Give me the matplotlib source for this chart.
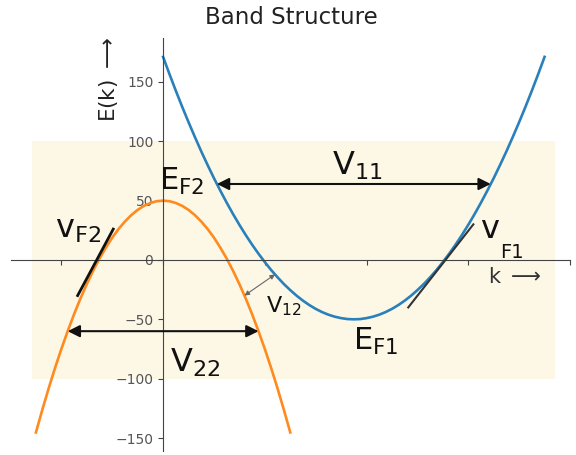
import matplotlib
matplotlib.use("Agg")
import matplotlib.pyplot as plt
from matplotlib.patches import Rectangle

plt.rcParams['mathtext.default'] = 'regular'
plt.rcParams['font.family'] = ['DejaVu Sans']

# ---- data ----
k_band2 = [-1.25, -1.1875, -1.125, -1.0625, -1.0, -0.9375, -0.875, -0.8125, -0.75, -0.6875,
           -0.625, -0.5625, -0.5, -0.4375, -0.375, -0.3125, -0.25, -0.1875, -0.125, -0.0625,
           0.0,
           0.0625, 0.125, 0.1875, 0.25, 0.3125, 0.375, 0.4375, 0.5, 0.5625, 0.625,
           0.6875, 0.75, 0.8125, 0.875, 0.9375, 1.0, 1.0625, 1.125, 1.1875, 1.25]
E_band2 = [-145.3, -126.3, -108.2, -91.1, -75.0, -59.9, -45.7, -32.5, -20.3, -9.1,
           1.2, 10.4, 18.8, 26.1, 32.4, 37.8, 42.2, 45.6, 48.0, 49.5,
           50.0,
           49.5, 48.0, 45.6, 42.2, 37.8, 32.4, 26.1, 18.8, 10.4, 1.2,
           -9.1, -20.3, -32.5, -45.7, -59.9, -75.0, -91.1, -108.2, -126.3, -145.3]

k_band1 = [0.0, 0.0625, 0.125, 0.1875, 0.25, 0.3125, 0.375, 0.4375, 0.5, 0.5625, 0.625,
           0.6875, 0.75, 0.8125, 0.875, 0.9375, 1.0, 1.0625, 1.125, 1.1875, 1.25,
           1.3125, 1.375, 1.4375, 1.5, 1.5625, 1.625, 1.6875, 1.75, 1.8125, 1.875,
           1.9375, 2.0, 2.0625, 2.125, 2.1875, 2.25, 2.3125, 2.375, 2.4375, 2.5,
           2.5625, 2.625, 2.6875, 2.75, 2.8125, 2.875, 2.9375, 3.0, 3.0625, 3.125,
           3.1875, 3.25, 3.3125, 3.375, 3.4375, 3.5, 3.5625, 3.625, 3.6875, 3.75]
E_band1 = [171.1, 156.6, 142.6, 129.1, 116.1, 103.6, 91.5, 80.0, 68.9, 58.4, 48.3,
           38.7, 29.6, 21.0, 12.9, 5.3, -1.8, -8.5, -14.6, -20.3, -25.4,
           -30.1, -34.3, -38.0, -41.2, -43.9, -46.1, -47.8, -49.0, -49.8, -50.0,
           -49.8, -49.0, -47.8, -46.1, -43.9, -41.2, -38.0, -34.3, -30.1, -25.4,
           -20.3, -14.6, -8.5, -1.8, 5.3, 12.9, 21.0, 29.6, 38.7, 48.3,
           58.4, 68.9, 80.0, 91.5, 103.6, 116.1, 129.1, 142.6, 156.6, 171.1]

shade_k = [-1.29, 3.85]
shade_E = [-100, 100]

v11_k = [0.529, 3.221]; v11_E = 64
v22_k = [-0.938, 0.938]; v22_E = -60
v12_k = [0.8, 1.1]; v12_E = [-30.0, -12.2]
tanF2_k = [-0.84, -0.49]; tanF2_E = [-30.0, 26.0]
tanF1_k = [2.41, 3.05]; tanF1_E = [-40.0, 30.0]

yticks = [-150, -100, -50, 0, 50, 100, 150]
xticks = [-1, 0, 1, 2, 3, 4]

W, H = 576, 455
fig = plt.figure(figsize=(W / 100, H / 100), dpi=100)
ax = fig.add_axes([10.5 / W, 1 - 451.2 / H, 559.5 / W, 413.1 / H])

ax.plot(k_band1, E_band1, color='#2a80bb', lw=1.9, zorder=2, solid_joinstyle='round')
ax.plot(k_band2, E_band2, color='#ff8a1e', lw=1.9, zorder=2, solid_joinstyle='round')

allk = k_band1 + k_band2
allE = E_band1 + E_band2
dk = max(allk) - min(allk)
dE = max(allE) - min(allE)
ax.set_xlim(min(allk) - 0.05 * dk, max(allk) + 0.05 * dk)
ax.set_ylim(min(allE) - 0.05 * dE, max(allE) + 0.05 * dE)

ax.add_patch(Rectangle((shade_k[0], shade_E[0]), shade_k[1] - shade_k[0], shade_E[1] - shade_E[0],
                       facecolor='#fdf8e6', edgecolor='none', zorder=0))

for s in ['top', 'right']:
    ax.spines[s].set_visible(False)
ax.spines['left'].set_position(('data', 0))
ax.spines['bottom'].set_position(('data', 0))
for s in ['left', 'bottom']:
    ax.spines[s].set_color('#444444')
ax.set_xticks(xticks)
ax.set_xticklabels([])
ax.set_yticks(yticks)
ax.tick_params(colors='#444444', labelcolor='#555555', labelsize=10)
ax.patch.set_visible(False)

big = 23
ap = dict(arrowstyle='<|-|>', color='#111111', lw=1.5, mutation_scale=18, shrinkA=0, shrinkB=0)
ax.annotate('', xy=(v11_k[1], v11_E), xytext=(v11_k[0], v11_E), arrowprops=ap, zorder=4)
ax.annotate('', xy=(v22_k[1], v22_E), xytext=(v22_k[0], v22_E), arrowprops=ap, zorder=4)
ax.annotate('', xy=(v12_k[1], v12_E[1]), xytext=(v12_k[0], v12_E[0]),
            arrowprops=dict(arrowstyle='<|-|>', color='#666666', lw=0.8, mutation_scale=7,
                            shrinkA=0, shrinkB=0), zorder=4)
ax.plot(tanF2_k, tanF2_E, color='#111111', lw=2, zorder=4)
ax.plot(tanF1_k, tanF1_E, color='#333333', lw=1.5, zorder=4)

tk = dict(color='#111111', ha='left', va='baseline', zorder=5)
ax.text(-0.04, 59, '$E_{F2}$', fontsize=22, **tk)
ax.text(1.66, 71.6, '$V_{11}$', fontsize=big, **tk)
ax.text(0.07, -94.4, '$V_{22}$', fontsize=big, **tk)
ax.text(-1.06, 18.5, '$v_{F2}$', fontsize=big, **tk)
ax.text(3.12, 18.5, '$v$', fontsize=big, **tk)
ax.text(3.31, 1.7, 'F1', fontsize=14, **tk)
ax.text(1.87, -75.8, '$E_{F1}$', fontsize=22, **tk)
ax.text(1.01, -43.8, '$V_{12}$', fontsize=16, **tk)
ax.text(3.19, -19.4, 'k $\\longrightarrow$', fontsize=15, color='#333333', ha='left', va='baseline')

fig.text(108 / W, 1 - 79 / H, 'E(k) $\\longrightarrow$', rotation=90, fontsize=15.5,
         color='#222222', ha='center', va='center')
fig.text(291 / W, 1 - 18 / H, 'Band Structure', fontsize=16.5, color='#222222',
         ha='center', va='center')

fig.savefig('out.png', dpi=100)
